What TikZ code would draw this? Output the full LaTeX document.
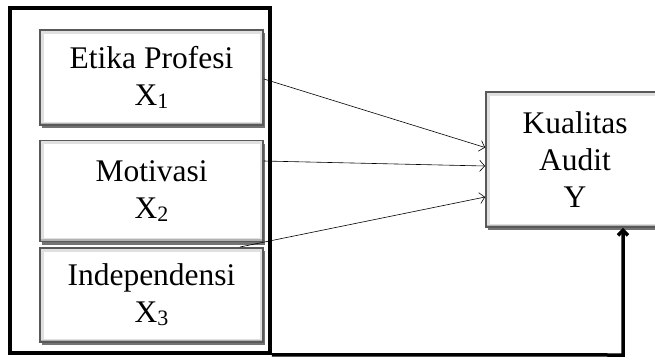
\documentclass[tikz,border=0pt]{standalone}
\usepackage{fontspec}
\setmainfont{Liberation Serif}
\usetikzlibrary{arrows.meta,shadows}
\newcommand{\idx}[1]{\raisebox{-3pt}{\fontsize{22}{22}\selectfont #1}}
\begin{document}
\begin{tikzpicture}[x=1pt,y=-1pt,
  var/.style={draw=black!65,line width=1.8pt,fill=white,align=center,
    minimum width=223pt,inner sep=0pt,
    path picture={\draw[black!12,line width=7pt]
      (path picture bounding box.south west) rectangle (path picture bounding box.north east);
      \draw[black!30,line width=5pt]
      (path picture bounding box.south west) -- (path picture bounding box.south east);},
    drop shadow={shadow xshift=1.5pt,shadow yshift=-3pt,fill=black,opacity=.55}},
  grp/.style={draw,line width=3.5pt,inner sep=0pt},
  arr/.style={-{Straight Barb[length=5pt,width=11pt]},line width=0.6pt}]
\fontsize{31.5}{37}\selectfont
\useasboundingbox (0,0) rectangle (655,360);
\node[grp,minimum width=260pt,minimum height=345pt] (grp) at (140,180.5) {};
\node[var,minimum height=95pt] (x1) at (151.5,77.5) {Etika Profesi\\X\idx{1}};
\node[var,minimum height=101pt] (x2) at (151.5,191) {Motivasi\\X\idx{2}};
\node[var,minimum height=94pt] (x3) at (151.5,295) {Independensi\\X\idx{3}};
\node[var,minimum width=178pt,minimum height=135pt] (y) at (575,159.5) {Kualitas\\Audit\\Y};
\coordinate (s3) at (240,247);
\coordinate (turn) at (623,355);
\draw[arr] ([yshift=-1.5pt]x1.east) -- ([yshift=12pt]y.west);
\draw[arr] ([yshift=30pt]x2.east) -- ([yshift=-6.5pt]y.west);
\draw[arr] (s3) -- ([yshift=-37.5pt]y.west);
\draw[line width=3.5pt,-{Straight Barb[length=5pt,width=10pt]}] (grp.south east) -- (turn) -- (turn |- y.south);
\end{tikzpicture}
\end{document}
